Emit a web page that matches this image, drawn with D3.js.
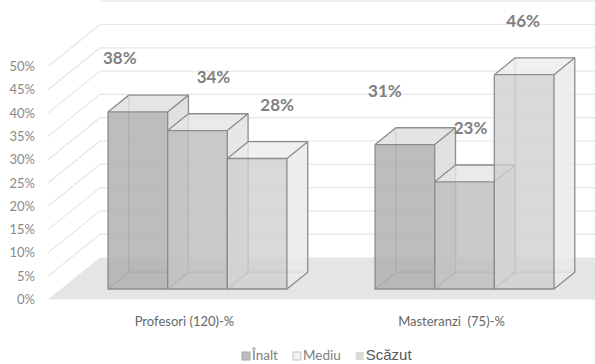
<!DOCTYPE html>
<html>
<head>
<meta charset="utf-8">
<script src="https://cdn.jsdelivr.net/npm/d3@7"></script>
<style>
  html, body { margin: 0; padding: 0; background: #fff; }
  svg { display: block; }
</style>
</head>
<body>
<svg width="595" height="364"></svg>
<script>
(function (d3) {
  'use strict'

  const categories = ['Profesori (120)-%', 'Masteranzi  (75)-%']
  const series = ['Înalt', 'Mediu', 'Scăzut']
  const values = [
    [38, 34, 28],
    [31, 23, 46]]
  const tickValues = [0, 5, 10, 15, 20, 25, 30, 35, 40, 45, 50]

  const svg = d3.select('svg')

  // oblique 3d: world x, value, depth z (0 = front, 1 = back wall)
  const DX = 52, DY = 42
  const wallX = 48
  const y = d3.scaleLinear().domain([0, 50]).range([299.5, 66.5])
  const proj = function (wx, v, z) { return [wx + z * DX, y(v) - z * DY] }

  const x0 = d3.scaleBand().domain(categories).range([48, 588]).
    paddingInner(0.33).paddingOuter(0.176)
  const x1 = d3.scaleBand().domain(series).range([0, x0.bandwidth()])

  const color = d3.scaleOrdinal().domain(series).range(['#adadad', '#bdbdbd', '#d0d0d0'])

  // floor
  const fl = [proj(wallX, 0, 0), proj(640, 0, 0), proj(640, 0, 1), proj(wallX, 0, 1)]
  svg.append('path').
    attr('d', 'M' + fl.join('L') + 'Z').
    attr('fill', '#e5e5e5')

  // gridlines: side wall diagonals + back wall
  const grid = svg.append('g').attr('class', 'grid').
    attr('stroke', '#e6e6e6').attr('fill', 'none').attr('stroke-width', 1.2)
  grid.selectAll('path.side').
    data(tickValues.filter(function (t) { return t > 0 })).
    enter().
    append('path').
    attr('class', 'side').
    attr('d', function (t) { return 'M' + proj(wallX, t, 0) + 'L' + proj(wallX, t, 1) })
  grid.selectAll('path.back').
    data(tickValues.concat([55]).filter(function (t) { return t > 0 })).
    enter().
    append('path').
    attr('class', 'back').
    attr('d', function (t) { return 'M' + proj(wallX, t, 1) + 'L' + proj(640, t, 1) })

  // tick labels
  svg.append('g').
    selectAll('text').
    data(tickValues).
    enter().
    append('text').
    attr('x', 35).
    attr('y', function (t) { return y(t) + 4.5 }).
    attr('text-anchor', 'end').
    attr('font-family', 'Lato, sans-serif').
    attr('font-size', 13).
    attr('fill', '#8a8a8a').
    text(function (t) { return t + '%' })

  // bars
  const z0 = 0.25, z1 = 0.65
  const bars = []
  categories.forEach(function (c, ci) {
    series.forEach(function (s, si) {
      bars.push({ cat: c, ser: s, ci: ci, si: si, v: values[ci][si], x: x0(c) + x1(s), w: x1.bandwidth() })
    })
  })

  const poly = function (pts) { return 'M' + pts.join('L') + 'Z' }

  const barG = svg.append('g').selectAll('g.bar').
    data(bars).
    enter().
    append('g').
    attr('class', 'bar')

  barG.each(function (d) {
    const g = d3.select(this)
    const a = d.x, b = d.x + d.w
    const base = color(d.ser)
    const light = d3.interpolateRgb(base, '#fff')
    // hidden edges
    g.append('path').
      attr('d', 'M' + proj(a, 0, z0) + 'L' + proj(a, 0, z1) + 'L' + proj(b, 0, z1) +
        'M' + proj(a, 0, z1) + 'L' + proj(a, d.v, z1)).
      attr('fill', 'none').attr('stroke', '#a3a3a3').attr('stroke-width', 1.2)
    // right side
    g.append('path').
      attr('d', poly([proj(b, 0, z0), proj(b, 0, z1), proj(b, d.v, z1), proj(b, d.v, z0)])).
      attr('fill', light(0.55)).attr('fill-opacity', 0.8)
    // top
    g.append('path').
      attr('d', poly([proj(a, d.v, z0), proj(b, d.v, z0), proj(b, d.v, z1), proj(a, d.v, z1)])).
      attr('fill', light(0.6)).attr('fill-opacity', 0.8)
    // front
    g.append('path').
      attr('d', poly([proj(a, 0, z0), proj(b, 0, z0), proj(b, d.v, z0), proj(a, d.v, z0)])).
      attr('fill', base).attr('fill-opacity', 0.8)
    // visible edges
    g.append('path').
      attr('d', poly([proj(a, 0, z0), proj(b, 0, z0), proj(b, d.v, z0), proj(a, d.v, z0)]) +
        'M' + proj(a, d.v, z0) + 'L' + proj(a, d.v, z1) + 'L' + proj(b, d.v, z1) + 'L' + proj(b, d.v, z0) +
        'M' + proj(b, d.v, z1) + 'L' + proj(b, 0, z1) + 'L' + proj(b, 0, z0)).
      attr('fill', 'none').attr('stroke', '#8c8c8c').attr('stroke-width', 1.3).
      attr('stroke-linejoin', 'round')
  })

  // value labels, nudged like in the original
  const labelNudge = [[-18, 16, 20], [-20, 6, -1]]
  svg.append('g').
    selectAll('text').
    data(bars).
    enter().
    append('text').
    attr('x', function (d) { return proj(d.x + d.w / 2, d.v, z0)[0] + labelNudge[d.ci][d.si] }).
    attr('y', function (d) { return proj(d.x, d.v, z0)[1] - 48 }).
    attr('text-anchor', 'middle').
    attr('font-family', 'Lato, sans-serif').
    attr('font-weight', 'bold').
    attr('font-size', 17).
    attr('fill', '#7f7f7f').
    text(function (d) { return d.v + '%' })

  // category labels
  svg.append('g').
    selectAll('text').
    data(categories).
    enter().
    append('text').
    attr('x', function (c) { return x0(c) + x0.bandwidth() / 2 }).
    attr('y', 326).
    attr('text-anchor', 'middle').
    attr('font-family', 'Lato, sans-serif').
    attr('font-size', 13).
    attr('fill', '#666').
    style('white-space', 'pre').
    text(function (c) { return c })

  // legend
  const legendFill = ['#bdbdbd', '#f2f2f2', '#dadada']
  const legendStroke = ['#a8a8a8', '#c4c4c4', 'none']
  const legend = svg.append('g').attr('class', 'legend')
  let lx = 242
  series.forEach(function (s, i) {
    legend.append('rect').
      attr('x', lx).attr('y', 352).attr('width', 8).attr('height', 8).
      attr('fill', legendFill[i]).attr('stroke', legendStroke[i])
    const t = legend.append('text').
      attr('x', lx + 10).attr('y', 360).
      attr('font-family', i === 2 ? '"Liberation Sans", Arial, sans-serif' : 'Lato, sans-serif').
      attr('font-size', i === 2 ? 15 : 13.5).
      attr('fill', i === 2 ? '#595959' : '#808080').
      text(s)
    lx += 10 + t.node().getComputedTextLength() + 15
  })
}(d3))
</script>
</body>
</html>
